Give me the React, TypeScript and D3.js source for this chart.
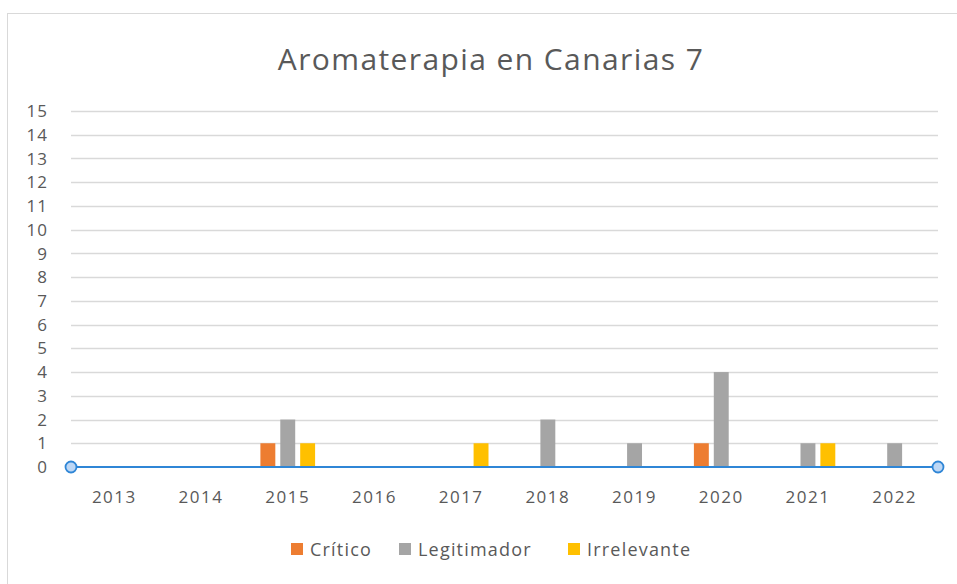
import * as d3 from "d3";
import { useEffect, useRef } from "react";

const years = ["2013", "2014", "2015", "2016", "2017", "2018", "2019", "2020", "2021", "2022"];
const seriesNames = ["Crítico", "Legitimador", "Irrelevante"];
const critico = [0, 0, 1, 0, 0, 0, 0, 1, 0, 0];
const legitimador = [0, 0, 2, 0, 0, 2, 1, 4, 1, 1];
const irrelevante = [0, 0, 1, 0, 1, 0, 0, 0, 1, 0];
const yTicks = d3.range(0, 16);
const colors = ["#ED7D31", "#A5A5A5", "#FFC000"];

const App = () => {
  const ref = useRef<SVGSVGElement>(null);

  useEffect(() => {
    const svg = d3.select(ref.current);
    svg.selectAll("*").remove();

    const W = 957, H = 584;
    const left = 71, right = 938, top = 111, bottom = 467;
    const font = "'Open Sans', 'Noto Sans', sans-serif";
    const txt = "#595959";

    // рамка
    svg.append("rect")
      .attr("x", 7.5).attr("y", 13.5)
      .attr("width", W).attr("height", H)
      .attr("fill", "#fff").attr("stroke", "#D9D9D9");

    svg.append("text")
      .attr("x", 491).attr("y", 70)
      .attr("text-anchor", "middle")
      .attr("font-family", font).attr("font-size", 30)
      .attr("letter-spacing", 1.4)
      .attr("fill", txt)
      .text("Aromaterapia en Canarias 7");

    const y = d3.scaleLinear().domain([0, 15]).range([bottom, top]);
    const x0 = d3.scaleBand().domain(years).range([left, right]);
    const pad = 16;
    const x1 = d3.scaleBand().domain(seriesNames)
      .range([pad, x0.bandwidth() - pad]).paddingInner(0.25);

    // сетка
    svg.append("g").selectAll("line")
      .data(yTicks.filter(d => d > 0))
      .join("line")
      .attr("x1", left).attr("x2", right)
      .attr("y1", d => Math.round(y(d)) + 0.5).attr("y2", d => Math.round(y(d)) + 0.5)
      .attr("stroke", "#D9D9D9").attr("stroke-width", 1.5);

    svg.append("g").selectAll("text")
      .data(yTicks)
      .join("text")
      .attr("x", 48).attr("y", d => y(d))
      .attr("dy", "0.36em")
      .attr("text-anchor", "end")
      .attr("font-family", font).attr("font-size", 17)
      .attr("letter-spacing", 1)
      .attr("fill", txt)
      .text(d => d);

    const allSeries = [critico, legitimador, irrelevante];
    allSeries.forEach((vals, i) => {
      svg.append("g").selectAll("rect")
        .data(vals.map((v, j) => ({ year: years[j], v })).filter(d => d.v > 0))
        .join("rect")
        .attr("x", d => (x0(d.year) ?? 0) + (x1(seriesNames[i]) ?? 0))
        .attr("y", d => y(d.v))
        .attr("width", x1.bandwidth())
        .attr("height", d => y(0) - y(d.v))
        .attr("fill", colors[i]);
    });

    // ось X
    svg.append("line")
      .attr("x1", left).attr("x2", right)
      .attr("y1", bottom).attr("y2", bottom)
      .attr("stroke", "#2F86D6").attr("stroke-width", 2);
    [left, right].forEach(cx => {
      svg.append("circle")
        .attr("cx", cx).attr("cy", bottom).attr("r", 5.5)
        .attr("fill", "#BDD7F5").attr("stroke", "#2F86D6").attr("stroke-width", 1.8);
    });

    svg.append("g").selectAll("text")
      .data(years)
      .join("text")
      .attr("x", d => (x0(d) ?? 0) + x0.bandwidth() / 2)
      .attr("y", 503)
      .attr("text-anchor", "middle")
      .attr("font-family", font).attr("font-size", 17)
      .attr("letter-spacing", 1.5)
      .attr("fill", txt)
      .text(d => d);

    // легенда
    const legendX = [291, 399, 568];
    seriesNames.forEach((name, i) => {
      svg.append("rect")
        .attr("x", legendX[i]).attr("y", 543)
        .attr("width", 12).attr("height", 12)
        .attr("fill", colors[i]);
      svg.append("text")
        .attr("x", legendX[i] + 19).attr("y", 556)
        .attr("font-family", font).attr("font-size", 18)
        .attr("letter-spacing", 1.2)
        .attr("fill", txt)
        .text(name);
    });
  }, []);

  return (
    <svg ref={ref} width={957} height={584} style={{ position: "absolute", left: 0, top: 0 }}></svg>
  );
};

export default App;
